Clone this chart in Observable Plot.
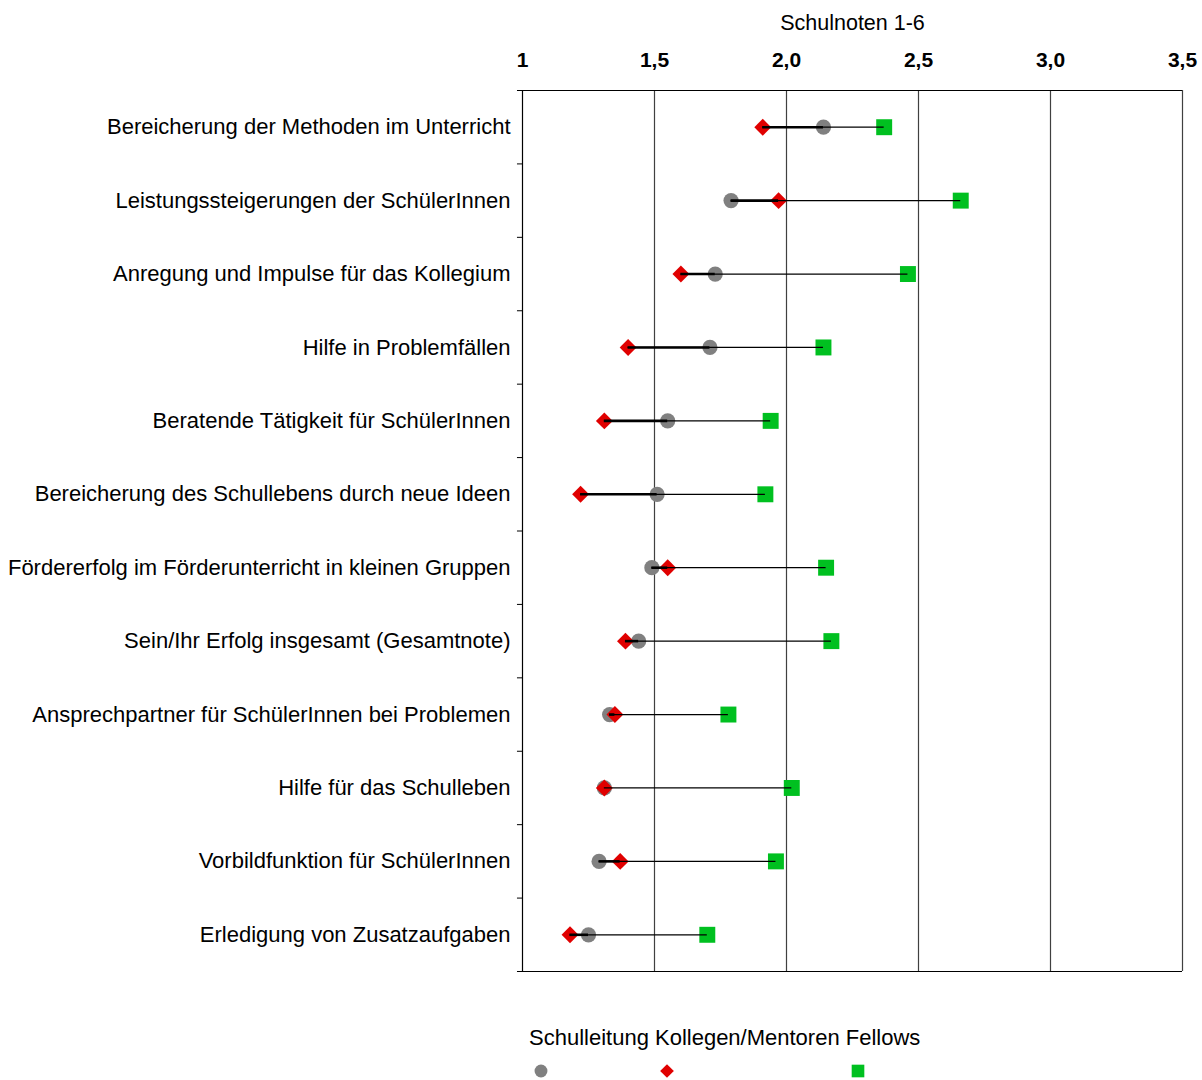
<!DOCTYPE html>
<html><head><meta charset="utf-8">
<script src="https://cdn.jsdelivr.net/npm/d3@7"></script>
<script src="https://cdn.jsdelivr.net/npm/@observablehq/plot@0.6"></script>
<style>
body{margin:0;background:#fff;font-family:"Liberation Sans",Arial,sans-serif;}
#wrap{position:relative;width:1202px;height:1080px;overflow:hidden;}
#legend{position:absolute;left:0;top:990px;width:1202px;height:90px;}
.lt{position:absolute;font-size:22px;color:#000;white-space:nowrap;line-height:1;}
.lm{position:absolute;}
</style></head><body>
<div id="wrap"><div id="chart"></div><div id="legend"></div></div>
<script>
const categories = [
  "Bereicherung der Methoden im Unterricht",
  "Leistungssteigerungen der SchülerInnen",
  "Anregung und Impulse für das Kollegium",
  "Hilfe in Problemfällen",
  "Beratende Tätigkeit für SchülerInnen",
  "Bereicherung des Schullebens durch neue Ideen",
  "Fördererfolg im Förderunterricht in kleinen Gruppen",
  "Sein/Ihr Erfolg insgesamt (Gesamtnote)",
  "Ansprechpartner für SchülerInnen bei Problemen",
  "Hilfe für das Schulleben",
  "Vorbildfunktion für SchülerInnen",
  "Erledigung von Zusatzaufgaben"
];
const schulleitung = [2.14, 1.79, 1.73, 1.71, 1.55, 1.51, 1.49, 1.44, 1.33, 1.31, 1.29, 1.25];
const kollegen     = [1.91, 1.97, 1.60, 1.40, 1.31, 1.22, 1.55, 1.39, 1.35, 1.31, 1.37, 1.18];
const fellows      = [2.37, 2.66, 2.46, 2.14, 1.94, 1.92, 2.15, 2.17, 1.78, 2.02, 1.96, 1.70];
const tickValues = [1, 1.5, 2, 2.5, 3, 3.5];
const tickLabels = ["1", "1,5", "2,0", "2,5", "3,0", "3,5"];
const gridValues = [1.5, 2, 2.5, 3, 3.5];
const seriesNames = ["Schulleitung", "Kollegen/Mentoren", "Fellows"];
const seriesColors = ["#808080", "#e00000", "#00c020"];
const seriesSymbols = ["circle", "diamond2", "square"];
const axisTitle = "Schulnoten 1-6";

const rows = categories.map((c, i) => ({cat: c, s: schulleitung[i], k: kollegen[i], f: fellows[i]}));
const W = 1202, H = 990, mT = 90, mB = 19, mL = 522, mR = 20;
const band = (H - mT - mB) / categories.length;
const font = "Liberation Sans, Arial, sans-serif";

const chart = Plot.plot({
  width: W, height: H,
  marginTop: mT, marginBottom: mB, marginLeft: mL, marginRight: mR,
  style: {fontFamily: font, color: "#000", background: "#fff", overflow: "visible"},
  x: {domain: [1, 3.5]},
  y: {type: "band", domain: categories, padding: 0, round: false},
  marks: [
    Plot.ruleX(gridValues, {stroke: "#404040", strokeWidth: 1.2}),
    Plot.ruleX([1], {stroke: "#000", strokeWidth: 1.2}),
    Plot.ruleY([categories[0]], {y: d => d, x1: 0.981, x2: 3.5, dy: -band / 2, stroke: "#000", strokeWidth: 1.2}),
    Plot.ruleY([categories[categories.length - 1]], {y: d => d, x1: 0.981, x2: 3.5, dy: band / 2, stroke: "#000", strokeWidth: 1.2}),
    Plot.ruleY(categories.slice(1), {y: d => d, x1: 0.981, x2: 1, dy: -band / 2, stroke: "#000", strokeWidth: 1}),
    Plot.dot(rows, {x: "s", y: "cat", symbol: seriesSymbols[0], r: 7.6, fill: seriesColors[0]}),
    Plot.dot(rows, {x: "k", y: "cat", symbol: seriesSymbols[1], r: 7.6, fill: seriesColors[1]}),
    Plot.dot(rows, {x: "f", y: "cat", symbol: seriesSymbols[2], r: 9, fill: seriesColors[2]}),
    Plot.ruleY(rows, {y: "cat", x1: d => Math.min(d.s, d.k), x2: "f", stroke: "#000", strokeWidth: 1.3}),
    Plot.ruleY(rows, {y: "cat", x1: "s", x2: "k", stroke: "#000", strokeWidth: 2.6}),
    Plot.axisY({tickSize: 0, tickPadding: 12, fontSize: 22, label: null, fill: "#000"}),
    Plot.axisX(tickValues, {anchor: "top", tickSize: 0, tickPadding: 24, fontSize: 21, fontWeight: "bold", label: null,
      tickFormat: d => tickLabels[tickValues.indexOf(d)], fill: "#000"}),
    Plot.text([axisTitle], {frameAnchor: "top", dy: -76, fontSize: 21.5, fill: "#000"})
  ]
});
document.getElementById("chart").appendChild(chart);

// legend
const legend = document.getElementById("legend");
const legendTextX = 529, legendTextY = 37;
const markerXs = [541, 667, 858];
const labelEl = document.createElement("div");
labelEl.className = "lt";
labelEl.style.left = legendTextX + "px";
labelEl.style.top = legendTextY + "px";
labelEl.textContent = seriesNames.join(" ");
legend.appendChild(labelEl);
seriesNames.forEach((n, i) => {
  const svg = d3.create("svg").attr("width", 20).attr("height", 20)
    .attr("class", "lm").style("left", (markerXs[i] - 10) + "px").style("top", (81 - 10) + "px");
  const sym = [d3.symbolCircle, d3.symbolDiamond2, d3.symbolSquare][i];
  const size = [130, 120, 160][i];
  svg.append("path").attr("transform", "translate(10,10)")
    .attr("d", d3.symbol(sym, size)()).attr("fill", seriesColors[i]);
  legend.appendChild(svg.node());
});
</script>
</body></html>
